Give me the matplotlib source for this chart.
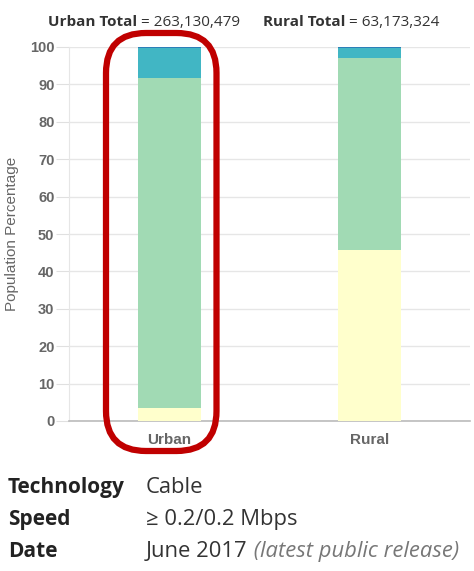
import matplotlib.pyplot as plt
import matplotlib.patches as mpatches
import matplotlib.transforms as mtransforms
import numpy as np

# data
categories = ["Urban", "Rural"]
no_service = [3.5, 45.7]          # yellow
one_provider = [88.2, 51.4]       # green
two_providers = [8.1, 2.7]        # teal
three_plus = [0.2, 0.2]           # blue
totals = ["263,130,479", "63,173,324"]
yticks = list(range(0, 101, 10))

seg_colors = ["#ffffcc", "#a1dab4", "#41b6c4", "#2c7fb8"]

W, H = 474, 571
fig = plt.figure(figsize=(W / 100, H / 100), dpi=100)
ax = fig.add_axes([69 / W, 1 - 421 / H, (470 - 69) / W, (421 - 47) / H])

x = np.arange(len(categories))
bottom = np.zeros(len(categories))
for vals, c in zip([no_service, one_provider, two_providers, three_plus], seg_colors):
    ax.bar(x, vals, width=0.315, bottom=bottom, color=c, edgecolor="none", zorder=3)
    bottom += np.array(vals)

ax.set_xlim(-0.5, 1.5)
ax.set_ylim(0, 100)
ax.set_yticks(yticks)
ax.set_yticklabels([str(t) for t in yticks], fontweight="bold", color="#666666",
                   fontsize=10.5, family="Liberation Sans")
ax.set_xticks(x)
ax.set_xticklabels(categories, fontweight="bold", color="#666666",
                   fontsize=11, family="Liberation Sans")
ax.tick_params(axis="y", length=9.5, color="#e0e0e0", pad=1)
ax.tick_params(axis="x", length=0, pad=9)
ax.grid(axis="y", color="#e6e6e6", linewidth=1, zorder=0)
for s in ["top", "right"]:
    ax.spines[s].set_visible(False)
ax.spines["left"].set_color("#e6e6e6")
ax.spines["bottom"].set_color("#bbbbbb")
ax.spines["bottom"].set_linewidth(1.2)
ax.set_ylabel("Population Percentage", color="#666666", fontsize=11,
              family="Liberation Sans", labelpad=7.5)

# red highlight box around Urban bar (pixel space)
box = mpatches.FancyBboxPatch((106 + 40, 120 + 40), 110.5 - 80, 418 - 80,
                              boxstyle="round,pad=40", transform=mtransforms.IdentityTransform(),
                              facecolor="none", edgecolor="#c00000", linewidth=4.5,
                              zorder=10)
fig.patches.append(box)

# totals header
fig.canvas.draw()
r = fig.canvas.get_renderer()
for x0, name, tot in [(48, "Urban Total", totals[0]), (263, "Rural Total", totals[1])]:
    t = fig.text(x0 / W, 1 - 26 / H, name, fontsize=11, fontweight="bold",
                 color="#333333", family="Open Sans", va="baseline")
    bb = t.get_window_extent(r)
    fig.text(bb.x1 / W, 1 - 26 / H, " = " + tot, fontsize=11, color="#333333",
             family="Open Sans", va="baseline")

# info rows
rows = [("Technology", "Cable", 493), ("Speed", "≥ 0.2/0.2 Mbps", 525), ("Date", "June 2017", 557)]
for lab, val, yb in rows:
    fig.text(8 / W, 1 - yb / H, lab, fontsize=15, fontweight="bold", color="#222222",
             family="Open Sans", va="baseline")
    tv = fig.text(146 / W, 1 - yb / H, val, fontsize=15.8, color="#333333",
                  family="Open Sans", va="baseline")
bb = tv.get_window_extent(r)
fig.text(bb.x1 / W, 1 - 557 / H, " (latest public release)", fontsize=15.8, style="italic",
         color="#777777", family="Open Sans", va="baseline")

fig.savefig("out.png", dpi=100)
